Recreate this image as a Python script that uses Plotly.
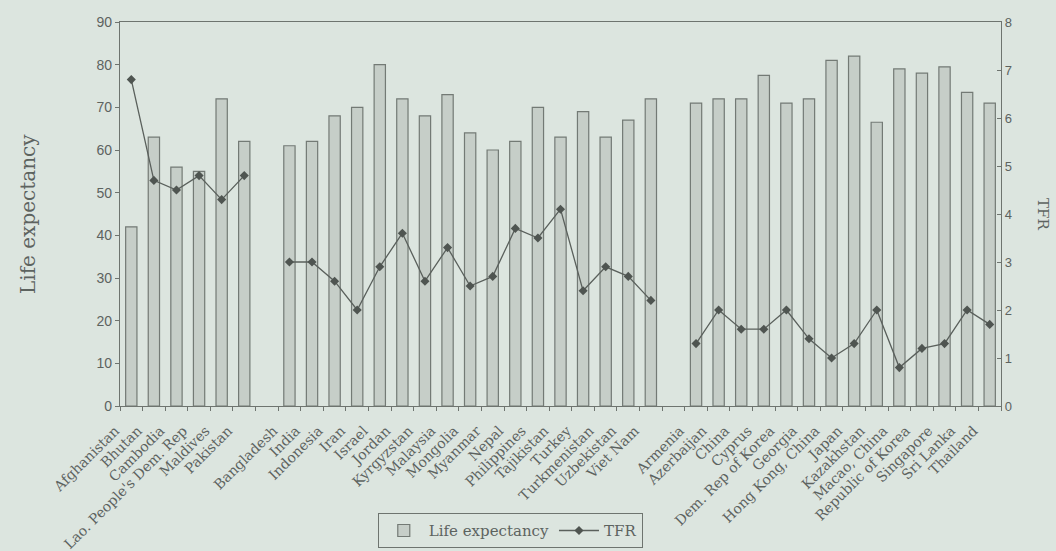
import plotly.graph_objects as go

# Country categories, with two blank spacer slots separating the three groups
countries = [
    "Afghanistan", "Bhutan", "Cambodia", "Lao. People's Dem. Rep", "Maldives", "Pakistan",
    " ",
    "Bangladesh", "India", "Indonesia", "Iran", "Israel", "Jordan", "Kyrgyzstan", "Malaysia",
    "Mongolia", "Myanmar", "Nepal", "Philippines", "Tajikistan", "Turkey", "Turkmenistan",
    "Uzbekistan", "Viet Nam",
    "  ",
    "Armenia", "Azerbaijan", "China", "Cyprus", "Dem. Rep of Korea", "Georgia",
    "Hong Kong, China", "Japan", "Kazakhstan", "Macao, China", "Republic of Korea",
    "Singapore", "Sri Lanka", "Thailand",
]

life_expectancy = [
    42, 63, 56, 55, 72, 62,
    None,
    61, 62, 68, 70, 80, 72, 68, 73, 64, 60, 62, 70, 63, 69, 63, 67, 72,
    None,
    71, 72, 72, 77.5, 71, 72, 81, 82, 66.5, 79, 78, 79.5, 73.5, 71,
]

tfr = [
    6.8, 4.7, 4.5, 4.8, 4.3, 4.8,
    None,
    3.0, 3.0, 2.6, 2.0, 2.9, 3.6, 2.6, 3.3, 2.5, 2.7, 3.7, 3.5, 4.1, 2.4, 2.9, 2.7, 2.2,
    None,
    1.3, 2.0, 1.6, 1.6, 2.0, 1.4, 1.0, 1.3, 2.0, 0.8, 1.2, 1.3, 2.0, 1.7,
]

left_ticks = list(range(0, 91, 10))
right_ticks = list(range(0, 9, 1))

BG = "#dce5df"
INK = "#5d635f"
AXIS = "#6e746f"
SERIF = "DejaVu Serif"
SANS = "Liberation Sans"

fig = go.Figure()

fig.add_trace(go.Bar(
    x=countries, y=life_expectancy, name="Life expectancy",
    marker=dict(color="#c6cec8", line=dict(color="#737a75", width=1.2)),
    yaxis="y",
))

fig.add_trace(go.Scatter(
    x=countries, y=tfr, name="TFR", mode="lines+markers",
    line=dict(color="#5a605c", width=1.3),
    marker=dict(symbol="diamond", size=7, color="#4f5551"),
    yaxis="y2",
))

fig.update_layout(
    width=1056, height=551,
    paper_bgcolor=BG, plot_bgcolor=BG,
    margin=dict(l=120, r=55, t=22, b=145, autoexpand=False),
    bargap=0.5,
    font=dict(family=SERIF, color=INK, size=12),
    xaxis=dict(
        type="category", categoryorder="array", categoryarray=countries,
        range=[-0.5, len(countries) - 0.5], automargin=False,
        tickangle=-45, tickfont=dict(family=SERIF, size=14, color=INK),
        ticklabelshift=-16, ticklabelstandoff=10,
        showline=True, linecolor=AXIS, linewidth=1.2, mirror=True,
        ticks="outside", ticklen=4, tickcolor=AXIS, tickson="boundaries",
        showgrid=False, zeroline=False,
    ),
    yaxis=dict(
        range=[0, 90], tickvals=left_ticks, automargin=False,
        tickfont=dict(family=SANS, size=14, color=INK),
        showline=True, linecolor=AXIS, linewidth=1.2,
        ticks="outside", ticklen=4, tickcolor=AXIS,
        showgrid=False, zeroline=False,
    ),
    yaxis2=dict(
        range=[0, 8], tickvals=right_ticks, overlaying="y", side="right", automargin=False,
        tickfont=dict(family=SANS, size=13, color=INK),
        showline=True, linecolor=AXIS, linewidth=1.2,
        ticks="inside", ticklen=4, tickcolor=AXIS,
        showgrid=False, zeroline=False,
    ),
    legend=dict(
        orientation="h", xref="paper", x=0.443, xanchor="center",
        yref="container", y=0.005, yanchor="bottom",
        bgcolor=BG, bordercolor=AXIS, borderwidth=1,
        font=dict(family=SERIF, size=15, color=INK),
        itemwidth=40, tracegroupgap=0,
    ),
    annotations=[
        dict(
            text="Life expectancy", xref="paper", yref="paper", x=0, xshift=-92, y=0.5,
            xanchor="center", yanchor="middle", textangle=-90, showarrow=False,
            font=dict(family=SERIF, size=20, color=INK),
        ),
        dict(
            text="TFR", xref="paper", yref="paper", x=1.0, xshift=42, y=0.5,
            xanchor="center", yanchor="middle", textangle=90, showarrow=False,
            font=dict(family=SERIF, size=15, color=INK),
        ),
    ],
)

fig.write_html("out.html")
